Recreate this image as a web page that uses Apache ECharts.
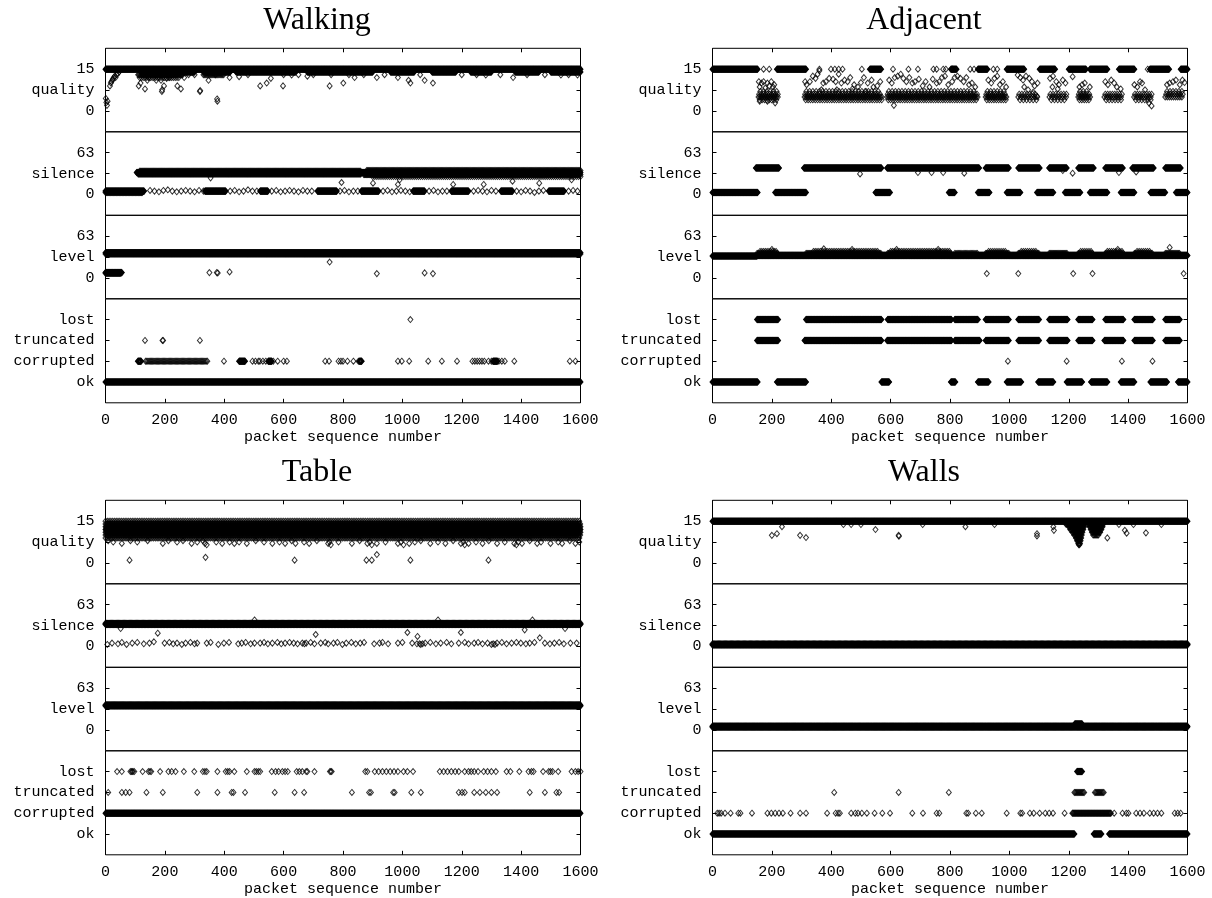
<!DOCTYPE html>
<html>
<head>
<meta charset="utf-8">
<script src="https://cdn.jsdelivr.net/npm/echarts@6/dist/echarts.min.js"></script>
<style>
  html, body { margin: 0; padding: 0; background: #ffffff; }
  #chart { width: 1212px; height: 898px; }
</style>
</head>
<body>
<div id="chart"></div>
<script>
// Packet traces for four radio-link scenarios. Each metric is stored as
// runs [fromPacket, toPacket, value, everyNth?] (one diamond per packet in the run,
// or every n-th packet when given) plus scattered single readings as flat x,y pairs.

const panelTitles = ['Walking', 'Adjacent', 'Table', 'Walls'];
const xTicks = [0, 200, 400, 600, 800, 1000, 1200, 1400, 1600];
const xAxisName = 'packet sequence number';

const qualityTicks = [0, 7.5, 15];
const qualityTickLabels = ['0', 'quality', '15'];
const silenceTicks = [0, 31.5, 63];
const silenceTickLabels = ['0', 'silence', '63'];
const levelTicks = [0, 31.5, 63];
const levelTickLabels = ['0', 'level', '63'];
const statusTicks = [0, 1, 2, 3];
const statusTickLabels = ['ok', 'corrupted', 'truncated', 'lost'];

// ---------------- Walking ----------------
const walkingQualityRuns = [
  [0, 1600, 15],
  [120, 300, 14], [330, 420, 14], [440, 640, 14], [680, 900, 14], [960, 1040, 14],
  [1100, 1180, 14], [1230, 1300, 14], [1380, 1460, 14], [1500, 1600, 14],
  [110, 260, 13, 3], [115, 250, 12, 6], [330, 400, 13, 4]
];
const walkingQualityPoints = [
  1, 4.5, 3, 3, 5, 2, 7, 3.5, 15, 9, 18, 10, 20, 10.5, 23, 11, 25, 11.5, 28, 12, 31, 12.5, 34, 12, 38, 13, 42, 13.5, 46, 14,
  112, 9, 118, 10, 133, 7.9, 141, 11, 146, 12, 171, 11, 187, 11, 190, 7, 191, 7.6, 197, 9, 206, 11.7, 215, 12,
  242, 9, 254, 7.9, 265, 12, 318, 7, 319, 7.3, 347, 11, 376, 4.3, 377, 3.5, 418, 12, 450, 12.3, 521, 9, 543, 10,
  557, 11.7, 598, 9, 627, 12.9, 680, 12.5, 755, 9, 801, 10, 839, 12, 914, 12, 985, 12, 1021, 11, 1027, 10,
  1075, 11, 1103, 10, 1281, 12.9, 1373, 12, 1534, 12.9, 1590, 12.9,
  280, 13, 300, 13, 370, 13, 480, 13, 600, 13, 650, 13, 700, 13, 760, 13, 820, 13, 870, 13, 940, 13,
  1060, 13, 1200, 13, 1250, 13, 1330, 13, 1420, 13, 1480, 13, 1560, 13
];
const walkingSilenceRuns = [
  [0, 130, 5], [0, 125, 3, 2],
  [105, 1600, 33], [110, 860, 31, 2], [115, 860, 35, 3], [870, 1600, 30, 2], [880, 1600, 36, 3], [900, 1600, 27, 7],
  [335, 405, 5], [521, 547, 5], [714, 779, 5], [862, 920, 5], [1036, 1075, 5], [1165, 1223, 5],
  [1332, 1371, 5], [1493, 1545, 5]
];
const walkingSilencePoints = [
  354, 25, 795, 18, 901, 17, 985, 15, 991, 22, 1171, 15, 1274, 15, 1371, 20, 1461, 17, 1570, 22,
  150, 6, 165, 5, 180, 4, 195, 6, 210, 7, 225, 5, 240, 4, 255, 5, 270, 6, 285, 5, 300, 4, 315, 6, 330, 5,
  420, 5, 435, 6, 450, 4, 465, 5, 480, 7, 495, 5, 510, 5,
  560, 5, 575, 6, 590, 4, 605, 5, 620, 6, 635, 5, 650, 4, 665, 6, 680, 5, 695, 5,
  790, 5, 805, 6, 820, 4, 835, 5, 850, 5,
  935, 5, 950, 6, 965, 4, 980, 5, 995, 6, 1010, 5, 1025, 4,
  1090, 5, 1105, 6, 1120, 4, 1135, 5, 1150, 5,
  1240, 5, 1255, 6, 1270, 5, 1285, 4, 1300, 6, 1315, 5,
  1385, 5, 1400, 4, 1415, 6, 1430, 5, 1445, 3, 1460, 5, 1475, 6,
  1560, 5, 1575, 6, 1590, 5
];
const walkingLevelRuns = [[0, 1600, 38], [0, 1600, 36, 2], [0, 55, 8], [0, 50, 7, 2]];
const walkingLevelPoints = [350, 8, 375, 8, 378, 7.5, 418, 9, 755, 24, 914, 6.5, 1075, 7.6, 1103, 6.5];
const walkingStatusRuns = [
  [0, 1600, 0],
  [109, 120, 1], [135, 345, 1, 4], [450, 470, 1], [548, 560, 1], [855, 863, 1], [1305, 1320, 1]
];
const walkingStatusPoints = [
  1027, 3,
  133, 2, 192, 2, 194, 2, 318, 2,
  399, 1, 495, 1, 505, 1, 515, 1, 520, 1, 530, 1, 540, 1, 565, 1, 580, 1, 600, 1, 611, 1,
  740, 1, 753, 1, 785, 1, 793, 1, 800, 1, 815, 1, 835, 1, 852, 1, 985, 1, 998, 1, 1023, 1,
  1087, 1, 1133, 1, 1184, 1, 1236, 1, 1244, 1, 1252, 1, 1260, 1, 1268, 1, 1276, 1, 1290, 1,
  1300, 1, 1325, 1, 1335, 1, 1345, 1, 1377, 1, 1564, 1, 1583, 1
];

// ---------------- Adjacent ----------------
const adjacentQualityRuns = [
  [0, 152, 15], [217, 315, 15], [530, 568, 15], [803, 822, 15], [894, 926, 15], [991, 1050, 15],
  [1102, 1154, 15], [1200, 1258, 15], [1271, 1330, 15], [1369, 1421, 15], [1473, 1538, 15], [1577, 1600, 15],
  [155, 222, 5, 5], [157, 222, 6, 7], [159, 220, 4, 8], [161, 218, 7, 11],
  [310, 570, 5, 5], [312, 570, 6, 7], [314, 570, 4, 8], [316, 568, 7, 11],
  [588, 895, 5, 5], [590, 895, 6, 7], [592, 893, 4, 8], [594, 890, 7, 11],
  [920, 990, 5, 5], [922, 990, 6, 7], [924, 988, 4, 8], [926, 986, 7, 11],
  [1030, 1095, 5, 8], [1033, 1095, 6, 9], [1036, 1095, 4, 11],
  [1135, 1192, 5, 8], [1138, 1192, 6, 9], [1141, 1190, 4, 11],
  [1232, 1275, 5, 5], [1234, 1275, 6, 7], [1236, 1273, 4, 8], [1238, 1270, 7, 11],
  [1320, 1382, 5, 7], [1323, 1382, 6, 8], [1326, 1380, 4, 10],
  [1420, 1480, 5, 7], [1423, 1480, 6, 8], [1426, 1478, 4, 10],
  [1525, 1585, 5, 7], [1528, 1585, 6, 8], [1531, 1583, 7, 10]
];
const adjacentQualityPoints = [
  156, 10.5, 165, 10, 172, 10.5, 185, 10, 198, 10.5, 208, 9.4, 159, 8.6, 178, 8.2, 204, 8.6, 191, 9,
  159, 3.5, 211, 2.9, 185, 3.5,
  312, 10.5, 317, 9.4, 328, 10.5, 338, 12.5, 347, 11.7, 354, 13.2, 360, 14.4, 373, 10, 382, 10.5, 393, 11.7,
  406, 11.4, 415, 10.5, 425, 13.2, 434, 10, 445, 11.1, 455, 10.5, 464, 12, 477, 9.4, 490, 8.6, 500, 10.2,
  510, 12, 523, 10, 536, 11.1, 542, 8.6, 555, 9, 565, 10.5, 367, 7.6, 419, 7.6, 471, 7.9, 517, 7,
  595, 11.1, 604, 10, 614, 12, 624, 12.5, 634, 13.2, 643, 11.7, 653, 10.5, 663, 12, 673, 10, 682, 10.5,
  695, 11.4, 708, 9, 718, 10.5, 731, 8.6, 742, 11.4, 755, 10, 764, 10.5, 773, 12, 783, 12.5, 794, 9.4,
  807, 10.5, 816, 12, 825, 12.5, 835, 11.7, 846, 10.5, 855, 12, 864, 9.4, 874, 10, 885, 8.6, 611, 2,
  929, 11.1, 939, 10, 950, 11.7, 959, 12.5, 968, 9.4, 978, 10.5, 989, 8.6,
  1028, 12.9, 1037, 12, 1046, 11.1, 1056, 12.5, 1067, 11.7, 1076, 10.5, 1085, 9, 1095, 10, 1050, 8.6,
  1063, 7.6, 1080, 6.7, 1093, 5.3,
  1137, 11.7, 1147, 12.5, 1158, 10.5, 1167, 9.4, 1180, 11.1, 1189, 10, 1213, 12.3, 1145, 8.6, 1163, 7.9,
  1236, 8.6, 1245, 9.4, 1254, 10, 1271, 8.6,
  1323, 10.5, 1332, 9.4, 1343, 11.1, 1353, 10, 1362, 8.6, 1375, 7.9,
  1421, 9.4, 1431, 8.6, 1440, 10.5, 1447, 10, 1457, 7.6, 1479, 1.8, 1470, 2.9,
  1531, 9.4, 1540, 10, 1551, 10.5, 1561, 11.1, 1574, 9.4, 1583, 11.1, 1590, 10.2,
  172, 15, 191, 15, 360, 15, 399, 15, 412, 15, 425, 15, 438, 15, 503, 15, 608, 15, 660, 15, 692, 15,
  744, 15, 755, 15, 777, 15, 786, 15, 809, 15, 868, 15, 881, 15, 946, 15, 959, 15, 1466, 15
];
const adjacentSilenceRuns = [
  [0, 152, 3], [211, 315, 3], [549, 598, 3], [796, 816, 3], [894, 933, 3], [991, 1037, 3],
  [1093, 1148, 3], [1187, 1239, 3], [1271, 1330, 3], [1375, 1421, 3], [1475, 1525, 3], [1561, 1600, 3],
  [146, 224, 40], [308, 569, 40], [588, 898, 40], [920, 998, 40], [1030, 1102, 40], [1134, 1193, 40],
  [1232, 1284, 40], [1323, 1382, 40], [1414, 1486, 40], [1525, 1577, 40]
];
const adjacentSilencePoints = [
  497, 31, 692, 33, 738, 33, 777, 33, 848, 32, 1180, 36, 1213, 32, 1369, 33, 1427, 34
];
const adjacentLevelRuns = [
  [0, 150, 33], [150, 1600, 34],
  [150, 221, 37, 3], [315, 569, 37, 3], [590, 805, 37, 3], [816, 894, 37, 4], [920, 998, 37, 3],
  [1030, 1100, 37, 3], [1134, 1196, 37, 3], [1232, 1280, 37, 3], [1323, 1384, 37, 3], [1421, 1483, 37, 3],
  [1525, 1574, 37, 3],
  [160, 215, 40, 6], [340, 560, 40, 6], [600, 800, 40, 6], [930, 990, 40, 7], [1040, 1095, 40, 7],
  [1240, 1275, 40, 7], [1330, 1380, 40, 7], [1430, 1478, 40, 7]
];
const adjacentLevelPoints = [
  924, 6.6, 1030, 6.6, 1215, 6.6, 1280, 6.6, 1587, 6.6,
  200, 43, 375, 44, 470, 43, 620, 43, 760, 43, 1365, 43, 1540, 46
];
const adjacentStatusRuns = [
  [0, 152, 0], [217, 315, 0], [569, 595, 0], [803, 818, 0], [894, 930, 0], [991, 1040, 0],
  [1097, 1148, 0], [1193, 1245, 0], [1275, 1330, 0], [1375, 1421, 0], [1475, 1531, 0], [1568, 1600, 0],
  [150, 221, 3], [315, 569, 3], [590, 805, 3], [816, 894, 3], [920, 998, 3], [1030, 1100, 3],
  [1134, 1196, 3], [1232, 1280, 3], [1323, 1384, 3], [1421, 1483, 3], [1525, 1574, 3],
  [150, 221, 2], [310, 569, 2], [588, 805, 2], [816, 900, 2], [920, 998, 2], [1030, 1100, 2],
  [1134, 1196, 2], [1232, 1280, 2], [1320, 1384, 2], [1421, 1483, 2], [1525, 1574, 2]
];
const adjacentStatusPoints = [995, 1, 1193, 1, 1379, 1, 1482, 1];

// ---------------- Table ----------------
const tableQualityRuns = [
  [0, 1600, 12], [0, 1600, 11, 2], [0, 1600, 13, 2], [0, 1600, 10, 3], [0, 1600, 14, 3],
  [0, 1600, 15, 6], [0, 1600, 9, 6]
];
const tableQualityPoints = [
  9, 8, 26, 7.5, 55, 7, 84, 8, 107, 7.5, 142, 8, 193, 7, 212, 8, 241, 7.5, 261, 8, 290, 7, 309, 7.5,
  328, 8, 335, 7, 341, 6.5, 373, 7.5, 393, 7, 418, 7.5, 434, 7, 450, 7.5, 476, 7, 506, 8, 534, 7.5,
  562, 7, 586, 7.5, 605, 7, 627, 8, 640, 7, 669, 7.5, 686, 7, 712, 8, 750, 7, 755, 7.5, 759, 6.5,
  785, 7.5, 830, 7, 856, 8, 882, 7, 890, 7.5, 897, 6.5, 914, 7, 943, 7.5, 985, 7, 995, 7.5, 1004, 6.5,
  1023, 7, 1042, 7.5, 1062, 8, 1094, 7, 1120, 7.5, 1145, 7, 1171, 8, 1197, 7, 1205, 7.5, 1210, 6.5,
  1223, 7, 1248, 7.5, 1270, 7, 1291, 8, 1319, 7, 1345, 7.5, 1377, 7, 1384, 6.5, 1390, 7.5, 1403, 7,
  1429, 8, 1454, 7, 1467, 7.5, 1499, 7, 1525, 7.5, 1538, 7, 1564, 8, 1583, 7, 1596, 7.5,
  81, 1, 337, 2, 637, 1, 879, 1, 897, 1, 914, 3, 1027, 1, 1290, 1
];
const tableSilenceRuns = [[0, 1600, 34], [0, 1600, 33, 2], [0, 1600, 35, 4]];
const tableSilencePoints = [
  51, 27, 176, 20, 502, 40, 708, 18, 1017, 21, 1051, 15, 1120, 40, 1197, 21, 1412, 25, 1438, 40, 1463, 13, 1548, 27,
  6, 3, 22, 5, 42, 4, 55, 6, 71, 3, 90, 5, 107, 6, 129, 4, 148, 5, 163, 7, 199, 5, 215, 6, 228, 4, 241, 5,
  257, 3, 270, 5, 286, 6, 300, 4, 309, 5, 341, 5, 354, 6, 380, 3, 399, 5, 416, 6, 447, 4, 459, 5, 472, 6,
  489, 4, 502, 5, 521, 5, 534, 6, 547, 4, 562, 5, 579, 6, 592, 4, 605, 5, 620, 6, 634, 5, 647, 4, 663, 5,
  670, 4, 676, 5, 691, 6, 704, 4, 725, 5, 740, 6, 750, 4, 768, 5, 781, 6, 798, 3, 811, 5, 828, 6, 843, 4,
  858, 5, 871, 6, 905, 4, 923, 5, 933, 6, 952, 4, 985, 5, 1000, 6, 1033, 5, 1049, 4, 1058, 4, 1062, 3,
  1068, 4, 1077, 5, 1094, 6, 1113, 4, 1129, 5, 1149, 6, 1165, 4, 1190, 5, 1210, 6, 1223, 4, 1242, 5,
  1255, 6, 1270, 4, 1287, 5, 1300, 3, 1306, 4, 1312, 3, 1319, 5, 1335, 6, 1351, 4, 1368, 5, 1384, 6,
  1399, 5, 1416, 4, 1429, 5, 1445, 6, 1480, 5, 1497, 4, 1512, 5, 1528, 6, 1544, 4, 1566, 5, 1587, 5
];
const tableLevelRuns = [[0, 1600, 37], [0, 1600, 36, 2], [0, 1600, 38, 3]];
const tableLevelPoints = [];
const tableStatusRuns = [[0, 1600, 1]];
const tableLostPackets = [
  39, 55, 84, 88, 90, 93, 97, 125, 145, 150, 154, 184, 212, 223, 236, 264, 299, 328, 335, 341, 377, 405,
  412, 418, 434, 476, 502, 508, 515, 521, 560, 573, 583, 596, 605, 614, 644, 653, 663, 676, 680, 704,
  756, 759, 762, 875, 882, 907, 920, 933, 946, 959, 972, 985, 1004, 1017, 1036, 1126, 1139, 1152, 1165,
  1178, 1190, 1210, 1223, 1232, 1242, 1255, 1274, 1287, 1300, 1315, 1351, 1364, 1394, 1425, 1435, 1442,
  1474, 1493, 1499, 1506, 1525, 1570, 1583, 1592, 1600
];
const tableTruncatedPackets = [
  9, 55, 68, 81, 138, 193, 309, 377, 425, 431, 470, 570, 637, 669, 830, 888, 894, 969, 974, 1030, 1062,
  1190, 1201, 1210, 1242, 1261, 1281, 1300, 1319, 1429, 1480, 1519, 1528
];

// ---------------- Walls ----------------
const wallsQualityRuns = [
  [0, 1600, 15],
  [1190, 1255, 14, 2], [1200, 1252, 13, 2], [1205, 1250, 12, 2], [1212, 1246, 11, 2], [1218, 1244, 10, 2],
  [1224, 1242, 9, 2], [1228, 1240, 8, 2], [1232, 1238, 7, 2], [1234, 1236, 6.5, 2],
  [1265, 1318, 14, 2], [1270, 1314, 13, 2], [1274, 1310, 12, 2], [1278, 1306, 11, 2], [1282, 1302, 10, 3]
];
const wallsQualityPoints = [
  200, 9.9, 217, 10.5, 234, 13, 295, 9.9, 315, 9.1, 441, 13.8, 467, 13.8, 500, 13.8, 549, 12, 627, 9.9,
  628, 9.6, 708, 13.8, 852, 13, 950, 13.8, 1093, 10.5, 1093, 9.7, 1148, 13, 1150, 11.7, 1330, 9,
  1369, 13.8, 1389, 11.7, 1395, 10.7, 1418, 13.8, 1460, 10.8, 1512, 13.8
];
const wallsSilenceRuns = [[0, 1600, 3], [0, 1600, 2, 2], [0, 1600, 4, 4]];
const wallsSilencePoints = [];
const wallsLevelRuns = [[0, 1600, 5], [0, 1600, 6, 3], [0, 1600, 4, 3], [1220, 1245, 9]];
const wallsLevelPoints = [];
const wallsStatusRuns = [
  [0, 1219, 0], [1284, 1310, 0], [1336, 1600, 0],
  [1228, 1245, 3], [1219, 1254, 2, 3], [1288, 1319, 2, 3], [1212, 1342, 1, 2]
];
const wallsStatusPoints = [
  410, 2, 627, 2, 796, 2,
  16, 1, 22, 1, 29, 1, 42, 1, 61, 1, 87, 1, 94, 1, 133, 1, 185, 1, 198, 1, 211, 1, 224, 1, 237, 1,
  263, 1, 295, 1, 315, 1, 386, 1, 415, 1, 423, 1, 429, 1, 467, 1, 481, 1, 490, 1, 503, 1, 520, 1,
  546, 1, 572, 1, 598, 1, 673, 1, 709, 1, 755, 1, 764, 1, 855, 1, 861, 1, 887, 1, 907, 1, 991, 1,
  1037, 1, 1043, 1, 1069, 1, 1082, 1, 1102, 1, 1121, 1, 1134, 1, 1147, 1, 1186, 1, 1353, 1, 1381, 1,
  1394, 1, 1401, 1, 1427, 1, 1440, 1, 1453, 1, 1473, 1, 1486, 1, 1499, 1, 1512, 1, 1557, 1, 1567, 1, 1577, 1
];

// ---------------- assembling ----------------
function expand(runs, flatPoints) {
  const out = [];
  runs.forEach(r => {
    const every = r[3] || 1;
    for (let x = r[0]; x <= r[1]; x += every) out.push([x, r[2]]);
  });
  for (let i = 0; i + 1 < flatPoints.length; i += 2) out.push([flatPoints[i], flatPoints[i + 1]]);
  return out;
}
function packetsAt(list, value) {
  const flat = [];
  list.forEach(x => { flat.push(x, value); });
  return flat;
}

const panelData = [
  [expand(walkingQualityRuns, walkingQualityPoints), expand(walkingSilenceRuns, walkingSilencePoints),
   expand(walkingLevelRuns, walkingLevelPoints), expand(walkingStatusRuns, walkingStatusPoints)],
  [expand(adjacentQualityRuns, adjacentQualityPoints), expand(adjacentSilenceRuns, adjacentSilencePoints),
   expand(adjacentLevelRuns, adjacentLevelPoints), expand(adjacentStatusRuns, adjacentStatusPoints)],
  [expand(tableQualityRuns, tableQualityPoints), expand(tableSilenceRuns, tableSilencePoints),
   expand(tableLevelRuns, tableLevelPoints),
   expand(tableStatusRuns, packetsAt(tableLostPackets, 3).concat(packetsAt(tableTruncatedPackets, 2)))],
  [expand(wallsQualityRuns, wallsQualityPoints), expand(wallsSilenceRuns, wallsSilencePoints),
   expand(wallsLevelRuns, wallsLevelPoints), expand(wallsStatusRuns, wallsStatusPoints)]
];

const rowAxes = [
  { min: -7.5, max: 22.5, ticks: qualityTicks, labels: qualityTickLabels },
  { min: -31.5, max: 94.5, ticks: silenceTicks, labels: silenceTickLabels },
  { min: -31.5, max: 94.5, ticks: levelTicks, labels: levelTickLabels },
  { min: -1, max: 4, ticks: statusTicks, labels: statusTickLabels }
];

// layout (pixels)
const panelLeft = [105.5, 712.5];
const panelTop = [48.3, 500.3];
const panelWidth = 475;
const rowHeight = [83.5, 83.5, 83.5, 104];

const monoFont = 'Liberation Mono';
const ink = '#000';

const grids = [], xAxes = [], yAxes = [], series = [], graphics = [];

panelTitles.forEach((title, pi) => {
  const col = pi % 2, row = Math.floor(pi / 2);
  const left = panelLeft[col];
  let top = panelTop[row];
  graphics.push({
    type: 'text', x: left + panelWidth / 2 - 26, y: top - 28, silent: true,
    style: {
      text: title, font: '32px "Liberation Serif"', fill: ink,
      textAlign: 'center', textVerticalAlign: 'middle', align: 'center', verticalAlign: 'middle'
    }
  });
  rowAxes.forEach((ax, ri) => {
    const gi = grids.length;
    grids.push({
      left: left, top: top, width: panelWidth, height: rowHeight[ri],
      show: true, borderColor: ink, borderWidth: 1, backgroundColor: 'transparent'
    });
    top += rowHeight[ri];

    const tickStyle = { show: true, inside: true, length: 4, lineStyle: { color: ink, width: 1 } };
    const xBase = {
      gridIndex: gi, type: 'value', min: xTicks[0], max: xTicks[xTicks.length - 1],
      interval: xTicks[1] - xTicks[0], splitLine: { show: false }
    };
    if (ri === 0) {
      xAxes.push(Object.assign({}, xBase, {
        position: 'top', axisLine: { show: false, onZero: false }, axisTick: tickStyle,
        axisLabel: { show: false }
      }));
    } else if (ri === 3) {
      xAxes.push(Object.assign({}, xBase, {
        position: 'bottom', axisLine: { show: false, onZero: false }, axisTick: tickStyle,
        axisLabel: { fontFamily: monoFont, fontSize: 15, color: ink, margin: 10, formatter: v => String(v) },
        name: xAxisName, nameLocation: 'middle', nameGap: 27,
        nameTextStyle: { fontFamily: monoFont, fontSize: 15, color: ink }
      }));
    } else {
      xAxes.push(Object.assign({}, xBase, { show: false, axisLine: { onZero: false } }));
    }

    const fmt = v => {
      const k = ax.ticks.indexOf(v);
      return k >= 0 ? ax.labels[k] : '';
    };
    yAxes.push({
      gridIndex: gi, type: 'value', min: ax.min, max: ax.max, position: 'left',
      axisLine: { show: false, onZero: false }, splitLine: { show: false },
      axisTick: Object.assign({ customValues: ax.ticks }, tickStyle),
      axisLabel: { customValues: ax.ticks, formatter: fmt, fontFamily: monoFont, fontSize: 15, color: ink, margin: 11 }
    });
    yAxes.push({
      gridIndex: gi, type: 'value', min: ax.min, max: ax.max, position: 'right',
      axisLine: { show: false, onZero: false }, splitLine: { show: false },
      axisTick: Object.assign({ customValues: ax.ticks }, tickStyle),
      axisLabel: { show: false }
    });

    series.push({
      type: 'scatter', xAxisIndex: gi, yAxisIndex: 2 * gi,
      data: panelData[pi][ri],
      symbol: 'diamond', symbolSize: [5, 6],
      itemStyle: { color: 'rgba(0,0,0,0)', borderColor: ink, borderWidth: 1 },
      silent: true, animation: false, progressive: 0, large: false, clip: false,
      emphasis: { disabled: true }
    });
  });
});

const chart = echarts.init(document.getElementById('chart'), null, { renderer: 'canvas' });
chart.setOption({
  animation: false,
  backgroundColor: '#ffffff',
  grid: grids,
  xAxis: xAxes,
  yAxis: yAxes,
  series: series,
  graphic: graphics
});
</script>
</body>
</html>
